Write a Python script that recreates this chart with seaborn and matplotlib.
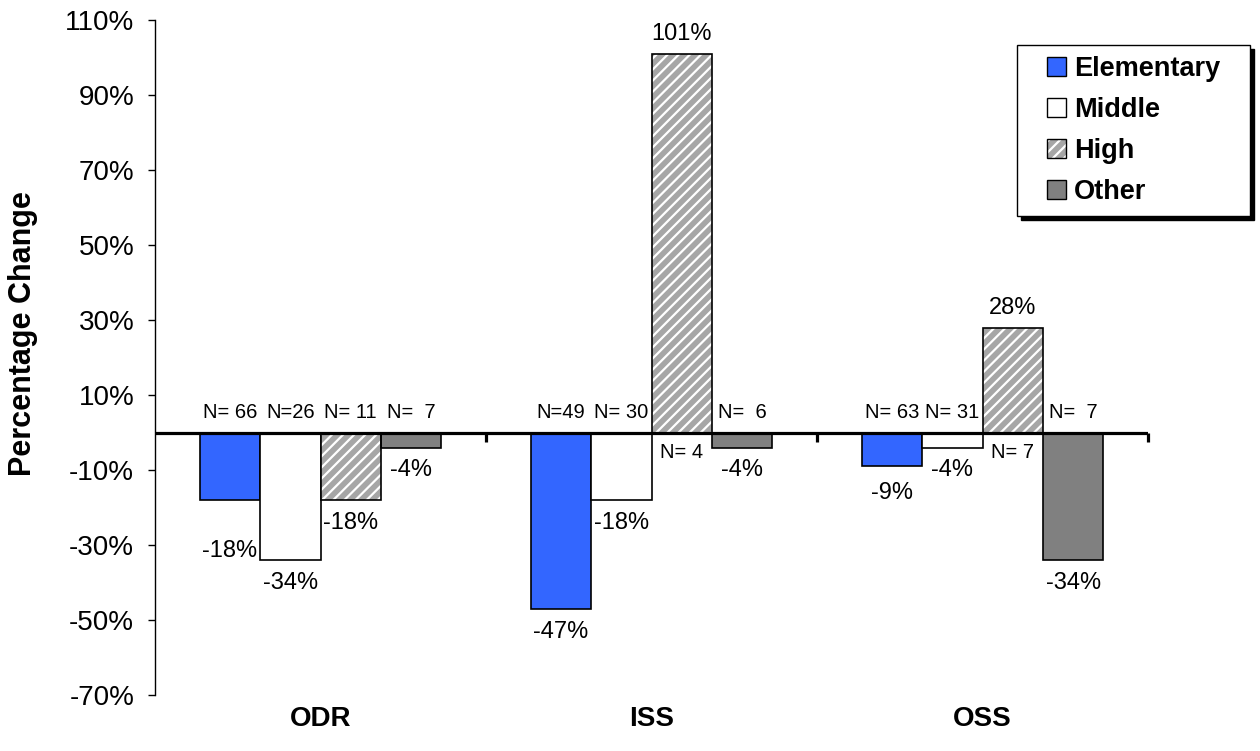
import matplotlib
matplotlib.use("Agg")
import matplotlib.pyplot as plt
import matplotlib.patches as mpatches
from matplotlib.colors import to_rgb
from matplotlib.legend_handler import HandlerPatch
from matplotlib.ticker import FixedLocator, FuncFormatter
import numpy as np
import pandas as pd
import seaborn as sns

# ---- data -------------------------------------------------------------
measures = ["ODR", "ISS", "OSS"]
levels = ["Elementary", "Middle", "High", "Other"]

elementary_change = [-18, -47, -9]
middle_change = [-34, -18, -4]
high_change = [-18, 101, 28]
other_change = [-4, -4, -34]

elementary_n = ["N= 66", "N=49", "N= 63"]
middle_n = ["N=26", "N= 30", "N= 31"]
high_n = ["N= 11", "N= 4", "N= 7"]
other_n = ["N=  7", "N=  6", "N=  7"]

y_ticks = [-70, -50, -30, -10, 10, 30, 50, 70, 90, 110]

series_change = [elementary_change, middle_change, high_change, other_change]
series_n = [elementary_n, middle_n, high_n, other_n]

rows = []
for lvl, vals, ns in zip(levels, series_change, series_n):
    for m, v, n in zip(measures, vals, ns):
        rows.append({"measure": m, "level": lvl, "change": v, "n": n})
df = pd.DataFrame(rows)

# ---- style ------------------------------------------------------------
sns.set_style("white")
plt.rcParams["font.family"] = ["Liberation Sans", "DejaVu Sans"]
plt.rcParams["text.color"] = "black"
plt.rcParams["axes.labelcolor"] = "black"
plt.rcParams["hatch.linewidth"] = 1.6

palette = {
    "Elementary": "#3366ff",
    "Middle": "#ffffff",
    "High": "#a6a6a6",
    "Other": "#808080",
}
edge_lw = 1.2

fig = plt.figure(figsize=(12.6, 7.51), dpi=100)
ax = fig.add_axes([155 / 1260, 56 / 751, 993 / 1260, 675 / 751])

sns.barplot(
    data=df, x="measure", y="change", hue="level",
    order=measures, hue_order=levels, palette=palette,
    width=0.73, edgecolor="black", linewidth=edge_lw,
    saturation=1, errorbar=None, legend=False, ax=ax,
)


def level_of(patch):
    rgb = patch.get_facecolor()[:3]
    for name, col in palette.items():
        if np.allclose(rgb, to_rgb(col), atol=1e-3):
            return name
    return None


bars = [(b, level_of(b)) for b in ax.patches if b.get_fill()]
bars = [(b, lvl) for b, lvl in bars if lvl is not None]

# hatched bars: white diagonal stripes with a separate black outline
for bar, lvl in bars:
    if lvl == "High":
        bar.set_hatch("///")
        bar.set_edgecolor("white")
        bar.set_linewidth(0)
        ax.add_patch(mpatches.Rectangle(
            bar.get_xy(), bar.get_width(), bar.get_height(),
            fill=False, edgecolor="black", linewidth=edge_lw,
            zorder=bar.get_zorder() + 0.1,
        ))

# ---- value and N labels ----------------------------------------------
lookup = {(r.measure, r.level): r for r in df.itertuples()}
extra_drop = {("ODR", "Elementary"): 20, ("OSS", "Elementary"): 3}

for bar, lvl in bars:
    xc = bar.get_x() + bar.get_width() / 2
    m = measures[int(round(xc))]
    rec = lookup[(m, lvl)]
    v = rec.change
    if v >= 0:
        dy = 14
    else:
        dy = -16.5 - extra_drop.get((m, lvl), 0)
    ax.annotate(f"{v}%", (xc, v), xytext=(0, dy), textcoords="offset points",
                ha="center", va="center", fontsize=17, zorder=6)
    ax.annotate(rec.n, (xc, 0), xytext=(0, -14.5 if v >= 0 else 14.5),
                textcoords="offset points", ha="center", va="center",
                fontsize=14.5, zorder=6)

# ---- axes -------------------------------------------------------------
ax.axhline(0, color="black", lw=2.3, zorder=5)
bounds = np.arange(len(measures)) + 0.5
ax.vlines(bounds, -2.4, 0, color="black", lw=2.3, zorder=5, clip_on=False)

ax.set_xlim(-0.5, len(measures) - 0.5)
ax.set_ylim(-70, 110)
ax.yaxis.set_major_locator(FixedLocator(y_ticks))
ax.yaxis.set_major_formatter(FuncFormatter(lambda v, p: f"{int(round(v))}%"))

for side in ("top", "right", "bottom"):
    ax.spines[side].set_visible(False)
ax.spines["left"].set_color("black")
ax.spines["left"].set_linewidth(1)

ax.tick_params(axis="y", left=True, direction="out", length=5, width=1,
               color="black", pad=10, labelsize=20, labelcolor="black")
ax.tick_params(axis="x", bottom=False, length=0, pad=8, labelsize=20,
               labelcolor="black")
for lab in ax.get_xticklabels():
    lab.set_fontweight("bold")

ax.set_xlabel("")
ax.set_ylabel("Percentage Change", fontsize=22, fontweight="bold")
ax.yaxis.set_label_coords(-0.118, 0.536)


# ---- legend -----------------------------------------------------------
def square(legend, orig_handle, xdescent, ydescent, width, height, fontsize):
    side = 0.72 * fontsize
    return mpatches.Rectangle(
        (-xdescent + width - side, -ydescent + (height - side) / 2), side, side)


handles = [
    mpatches.Patch(facecolor=palette["Elementary"], edgecolor="black", linewidth=1),
    mpatches.Patch(facecolor=palette["Middle"], edgecolor="black", linewidth=1),
    (mpatches.Patch(facecolor=palette["High"], edgecolor="white", hatch="///", linewidth=0),
     mpatches.Patch(fill=False, edgecolor="black", linewidth=1)),
    mpatches.Patch(facecolor=palette["Other"], edgecolor="black", linewidth=1),
]
leg = ax.legend(
    handles, levels,
    handler_map={mpatches.Patch: HandlerPatch(patch_func=square)},
    loc="upper left",
    bbox_to_anchor=(1017 / 1260, 1 - 214 / 751, 233 / 1260, 169 / 751),
    bbox_transform=fig.transFigure, mode="expand", borderaxespad=0,
    prop={"weight": "bold", "size": 19.5}, handlelength=1.4, handleheight=0.8,
    handletextpad=0.3, labelspacing=0.55, borderpad=0.41,
    fancybox=False, framealpha=1, edgecolor="black",
    shadow={"ox": 3, "oy": -3, "facecolor": "black", "edgecolor": "black", "alpha": 1},
)
leg.get_frame().set_linewidth(1)
leg.set_zorder(10)

fig.savefig("out.png", dpi=100)
